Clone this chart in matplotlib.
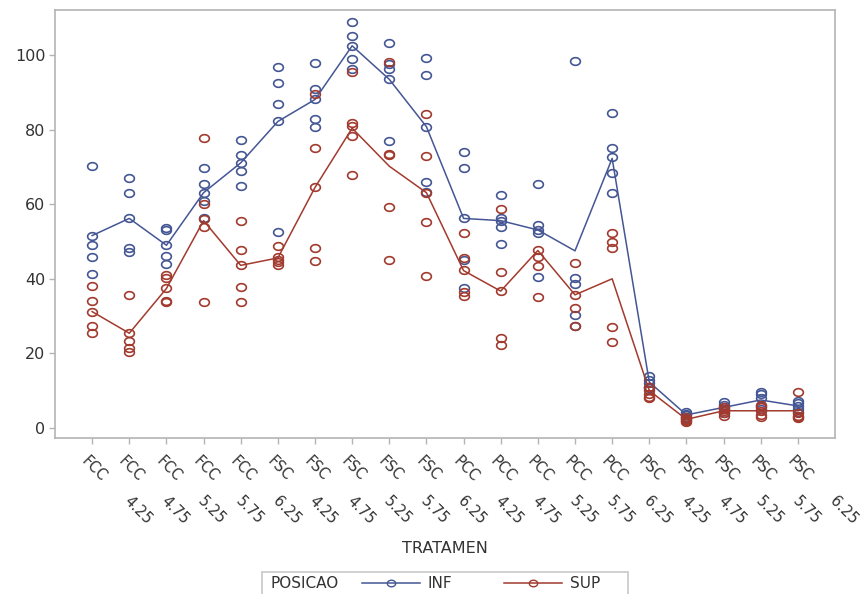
import numpy as np
import matplotlib
matplotlib.use("Agg")
import matplotlib.pyplot as plt
from matplotlib.path import Path
from matplotlib.lines import Line2D
from matplotlib.patches import Rectangle

# treatment levels (x axis)
groups = ["FCC"] * 5 + ["FSC"] * 5 + ["PCC"] * 5 + ["PSC"] * 5
levels = ["4.25", "4.75", "5.25", "5.75", "6.25"] * 4

# observations per treatment, POSICAO = INF
inf_obs = [
    [70.3, 51.6, 49.0, 45.8, 41.4],
    [67.1, 63.1, 56.2, 48.2, 47.1],
    [53.6, 53.2, 49.0, 46.1, 44.0],
    [69.6, 65.4, 63.1, 60.9, 56.2],
    [77.2, 73.2, 71.1, 68.9, 65.0],
    [96.7, 92.4, 86.9, 82.2, 52.6],
    [97.8, 90.9, 88.1, 82.8, 80.8],
    [109.0, 105.1, 102.5, 98.9, 96.2],
    [103.3, 97.6, 96.2, 93.5, 76.9],
    [99.3, 94.6, 80.8, 66.0, 63.4],
    [73.9, 69.6, 56.2, 45.0, 37.5],
    [62.5, 56.2, 55.6, 54.0, 49.3],
    [65.3, 54.4, 53.1, 52.4, 40.4],
    [98.5, 40.3, 38.6, 30.3, 27.4],
    [84.5, 75.1, 72.7, 68.3, 62.9],
    [13.9, 12.9, 12.0, 11.0, 10.6],
    [4.3, 3.8, 3.4, 3.0, 2.6],
    [6.9, 6.2, 5.6, 5.0, 4.0],
    [9.7, 9.0, 8.0, 6.0, 5.0],
    [7.3, 6.8, 6.0, 5.0, 4.4],
]

# observations per treatment, POSICAO = SUP
sup_obs = [
    [38.2, 34.1, 31.2, 27.4, 25.4],
    [35.7, 25.4, 23.3, 21.4, 20.3],
    [41.0, 40.1, 37.4, 34.0, 33.7],
    [77.8, 60.0, 56.0, 53.8, 33.9],
    [55.5, 47.6, 43.6, 37.9, 33.9],
    [48.9, 45.9, 45.0, 44.4, 43.7],
    [89.7, 75.0, 64.5, 48.3, 44.7],
    [95.5, 81.7, 81.0, 78.3, 67.8],
    [98.2, 73.6, 73.2, 59.2, 45.0],
    [84.1, 72.9, 63.1, 55.2, 40.8],
    [52.4, 45.5, 42.4, 36.4, 35.5],
    [58.7, 41.7, 36.7, 24.0, 22.3],
    [47.7, 45.9, 43.4, 35.0],
    [44.3, 35.7, 32.1, 27.4],
    [52.4, 49.8, 48.3, 27.0, 23.0],
    [11.0, 10.2, 9.0, 8.2, 8.0],
    [3.0, 2.5, 2.2, 1.8, 1.5],
    [5.6, 5.0, 4.6, 4.0, 3.2],
    [6.2, 5.5, 4.6, 3.6, 3.0],
    [9.7, 4.0, 3.2, 2.9, 2.6],
]

# mean lines as drawn in the chart
inf_mean = [51.6, 56.2, 49.0, 63.1, 71.1, 82.2, 88.1, 102.5, 93.5, 80.8,
            56.2, 55.6, 53.1, 47.5, 72.3, 12.3, 3.5, 5.5, 7.5, 5.9]
sup_mean = [31.2, 25.4, 37.4, 55.6, 43.6, 45.6, 64.5, 80.4, 70.2, 63.1,
            42.2, 36.7, 47.6, 35.7, 40.0, 10.0, 2.3, 4.6, 4.6, 4.6]

yticks = [0, 20, 40, 60, 80, 100]

BLUE = "#445694"
RED = "#a23a2e"
GRAY_TXT = "#333333"
GRAY_AX = "#b4b4b4"

plt.rcParams["font.family"] = ["DejaVu Sans"]

# slightly wide open ellipse, like the reference markers
t = np.linspace(0, 2 * np.pi, 60)
ellipse = Path(np.column_stack([1.27 * np.cos(t), np.sin(t)]), closed=True)

fig = plt.figure(figsize=(8.61, 5.94), dpi=100)
ax = fig.add_axes([55 / 861, 1 - 438 / 594, 780 / 861, 428 / 594])

x = np.arange(len(groups))

for obs, mean, color in [(inf_obs, inf_mean, BLUE), (sup_obs, sup_mean, RED)]:
    xs = np.concatenate([[i] * len(v) for i, v in enumerate(obs)])
    ys = np.concatenate(obs)
    ax.plot(xs, ys, linestyle="none", marker=ellipse, markersize=7,
            markerfacecolor="none", markeredgecolor=color, markeredgewidth=1.2)
    ax.plot(x, mean, color=color, linewidth=1.1)

ax.set_xlim(-1, len(groups))
ax.set_ylim(-2.7, 112.1)
ax.set_yticks(yticks)
ax.set_xticks(x)
ax.set_xticklabels([])

for s in ax.spines.values():
    s.set_color(GRAY_AX)
    s.set_linewidth(1.2)
ax.tick_params(axis="both", colors=GRAY_AX, length=4, width=1.0,
               labelcolor=GRAY_TXT, labelsize=11.5)
ax.tick_params(axis="y", pad=3)

# two-part rotated category labels
for i, (g, lv) in enumerate(zip(groups, levels)):
    ax.annotate(g, xy=(i, 0), xycoords=ax.get_xaxis_transform(),
                xytext=(-8, -21), textcoords="offset pixels",
                rotation=-45, rotation_mode="anchor", ha="left", va="center",
                fontsize=10.5, color=GRAY_TXT, annotation_clip=False)
    ax.annotate(lv, xy=(i, 0), xycoords=ax.get_xaxis_transform(),
                xytext=(34, -61), textcoords="offset pixels",
                rotation=-45, rotation_mode="anchor", ha="left", va="center",
                fontsize=10.5, color=GRAY_TXT, annotation_clip=False)

ax.set_xlabel("TRATAMEN", fontsize=11.5, color=GRAY_TXT)
ax.xaxis.set_label_coords(0.5, (438 - 541) / 428)

# legend strip at the bottom (partly cut off, as in the reference)
fig.patches.append(Rectangle((262 / 861, -6 / 594), 366 / 861, 28 / 594,
                             transform=fig.transFigure, fill=False,
                             edgecolor="#c8c8c8", linewidth=1.2))
fig.text(270 / 861, 1 - 584 / 594, "POSICAO", fontsize=11, color=GRAY_TXT,
         ha="left", va="center")
handles = [Line2D([], [], color=BLUE, linewidth=1.1, marker=ellipse, markersize=6,
                  markerfacecolor="none", markeredgecolor=BLUE),
           Line2D([], [], color=RED, linewidth=1.1, marker=ellipse, markersize=6,
                  markerfacecolor="none", markeredgecolor=RED)]
fig.legend(handles, ["INF", "SUP"], ncol=2, frameon=False, fontsize=11,
           loc="center left", bbox_to_anchor=(362 / 861, 1 - 584 / 594),
           handlelength=3.8, handletextpad=0.5, columnspacing=3.4,
           borderpad=0, borderaxespad=0, labelcolor=GRAY_TXT)

fig.savefig("out.png", dpi=100)
plt.close(fig)
